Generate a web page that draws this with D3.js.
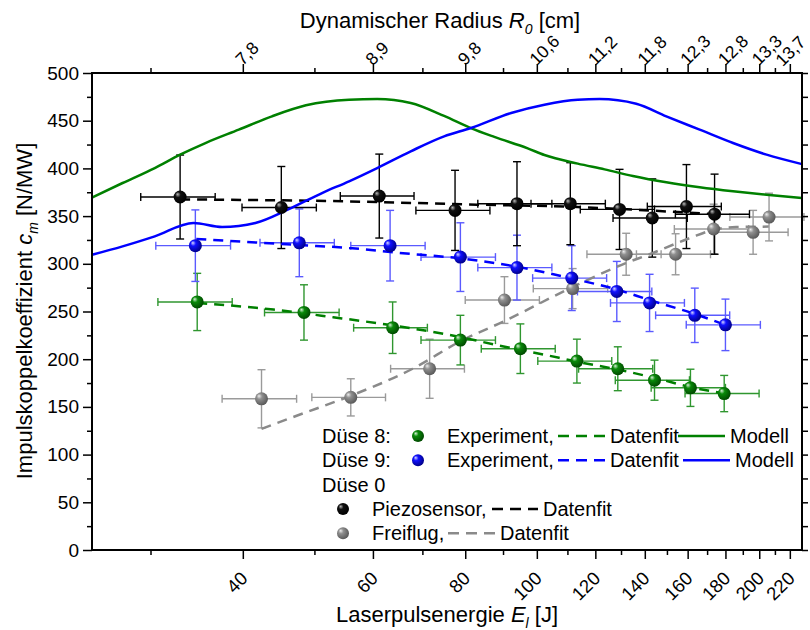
<!DOCTYPE html>
<html>
<head>
<meta charset="utf-8">
<script src="https://cdn.jsdelivr.net/npm/d3@7"></script>
<style>
  body { margin: 0; background: #fff; }
  text { font-family: "Liberation Sans", Arial, sans-serif; fill: #000; }
</style>
</head>
<body>
<div id="chart"></div>
<script>
// ---- data ----
// Düse 8 (green)
const d8E     = [34.7, 48.4, 63.8, 78.8, 95.0, 113.3, 128.7, 144.3, 161.4, 179.3];
const d8Cm    = [260, 249, 233, 220, 211, 198, 190, 178, 170, 164];
const d8CmErr = [30, 29, 27, 26, 26, 23, 23, 21, 19.5, 19];
const d8EErr  = [4.0, 5.6, 7.3, 9.1, 10.9, 13.0, 14.8, 16.6, 18.6, 20.6];
// Düse 9 (blue)
const d9E     = [34.5, 47.7, 63.3, 78.8, 94.0, 111.5, 128.3, 142.1, 163.6, 180.0];
const d9Cm    = [319, 322, 319, 307, 296, 285, 271, 259, 246, 236];
const d9CmErr = [37.5, 35.5, 37, 36, 34, 34, 31.5, 30, 28.5, 27];
const d9EErr  = [4.0, 5.5, 7.3, 9.1, 10.8, 12.8, 14.8, 16.3, 18.8, 20.7];
// Düse 0, Piezosensor (black)
const piezoE     = [32.9, 45.1, 61.2, 77.5, 94.0, 111.0, 129.4, 143.3, 159.4, 174.0];
const piezoCm    = [370, 359, 371, 356, 363, 363, 357, 348, 360, 352];
const piezoCmErr = [44, 43, 44, 42, 44, 43, 42, 41, 44, 42];
const piezoEErr  = [3.8, 5.2, 7.0, 8.9, 10.8, 12.8, 14.9, 16.5, 18.3, 20.0];
// Düse 0, Freiflug (gray)
const freiE     = [42.4, 56.0, 71.6, 90.4, 111.8, 132.1, 154.1, 173.5, 196.2, 206.2];
const freiCm    = [158.5, 160, 190, 262, 274, 310, 310, 336.5, 333, 349];
const freiCmErr = [30.5, 19.5, 31, 24.5, 21, 22, 21.5, 26, 23, 25];
const freiEErr  = [4.9, 6.4, 8.2, 10.4, 12.9, 15.2, 17.7, 20.0, 22.6, 23.7];

// data fits
const fit8E  = [34.7, 44, 53, 63, 79, 88, 102, 114, 129, 145, 163, 173.6, 179.5];
const fit8Cm = [259, 252, 244, 236, 223, 215, 205, 197, 189, 180, 170, 166, 164];
const fit9E  = [34.6, 47.6, 55.7, 64.7, 78.7, 93.9, 111.2, 128.3, 142.1, 163.6, 180.1];
const fit9Cm = [326, 319.7, 316.6, 311.6, 305.7, 297, 284.8, 273, 262, 247.4, 235.8];
const fitPiezoE  = [32.9, 54.8, 83.0, 113.6, 121.6, 174.0];
const fitPiezoCm = [367.5, 365.5, 362, 359.5, 358.5, 352];
const fitFreiE  = [42.4, 47.6, 55.7, 67.9, 78.9, 90.4, 112, 131.7, 142.1, 161.1, 173.6, 186.1, 206];
const fitFreiCm = [127, 141.5, 161, 190, 219, 240, 276, 300.5, 310, 327, 335.7, 338.6, 339];

// model curves
const model8E  = [25, 27.5, 30.4, 32.9, 35.6, 39.5, 43.8, 48.7, 55.7, 60.8, 67.5, 74.9, 81.4, 87.6, 97.2, 102.4, 113.6, 123.5, 134.9, 149.7, 166.1, 184.3, 204.6, 228.5];
const model8Cm = [369.5, 384.7, 400.4, 414.4, 426.6, 440.6, 454.6, 466.1, 472, 472.7, 468.6, 455, 442.3, 433, 421, 414, 405, 399, 392, 385.4, 380.2, 376, 372.4, 369];
const model9E  = [25, 27.5, 30.4, 34.3, 37.5, 41.6, 46.0, 51.2, 55.7, 60.8, 67.5, 74.9, 81.4, 92.3, 102.4, 113.6, 121.6, 136.3, 149.7, 166.1, 184.3, 204.6, 228.5];
const model9Cm = [309.5, 318.3, 328.8, 342.8, 338.6, 342.8, 356.7, 374.2, 386.5, 400.4, 417.9, 433.6, 442.3, 458.1, 466.8, 472, 472.7, 467.8, 454.6, 440.6, 426.6, 414.4, 404.5];

// axis ticks
const majorE = [40, 60, 80, 100, 120, 140, 160, 180, 200, 220];
const minorE = [30, 50, 70, 90, 110, 130, 150, 170, 190, 210];
const radiusLabels = ["7,8", "8,9", "9,8", "10,6", "11,2", "11,8", "12,3", "12,8", "13,3", "13,7"];
const cmMajor = [0, 50, 100, 150, 200, 250, 300, 350, 400, 450, 500];
const cmMinor = [25, 75, 125, 175, 225, 275, 325, 375, 425, 475];

const width = 810, height = 630;
const plot = {left: 92, right: 802, top: 73, bottom: 550};

const svg = d3.select("#chart")
  .append("svg")
    .attr("width", width)
    .attr("height", height);

const x = d3.scaleLog().domain([25, 228.5]).range([plot.left, plot.right]);
const y = d3.scaleLinear().domain([0, 500]).range([plot.bottom, plot.top]);

// shaded balls
const defs = svg.append("defs");
function ball(id, light, mid, dark) {
  const g = defs.append("radialGradient").attr("id", id)
    .attr("cx", "40%").attr("cy", "40%").attr("r", "60%")
    .attr("fx", "30%").attr("fy", "28%");
  g.append("stop").attr("offset", "0%").attr("stop-color", light);
  g.append("stop").attr("offset", "35%").attr("stop-color", mid);
  g.append("stop").attr("offset", "100%").attr("stop-color", dark);
}
ball("gGreen", "#d8f0d8", "#0a8a0a", "#004a00");
ball("gBlue", "#d8d8ff", "#1010ff", "#00008a");
ball("gBlack", "#bbbbbb", "#111111", "#000000");
ball("gGray", "#eeeeee", "#909090", "#5a5a5a");

const series = [
  {E: freiE, cm: freiCm, eErr: freiEErr, cErr: freiCmErr, bar: "#9a9a9a", fill: "url(#gGray)"},
  {E: d8E, cm: d8Cm, eErr: d8EErr, cErr: d8CmErr, bar: "#2f962f", fill: "url(#gGreen)"},
  {E: d9E, cm: d9Cm, eErr: d9EErr, cErr: d9CmErr, bar: "#5a5aff", fill: "url(#gBlue)"},
  {E: piezoE, cm: piezoCm, eErr: piezoEErr, cErr: piezoCmErr, bar: "#000000", fill: "url(#gBlack)"}
];

// error bars
series.forEach(function(s) {
  const g = svg.append("g").attr("stroke", s.bar).attr("stroke-width", 1.4).attr("fill", "none");
  s.E.forEach(function(e, i) {
    const cx = x(e), cy = y(s.cm[i]);
    const x0 = x(e - s.eErr[i]), x1 = x(e + s.eErr[i]);
    const y0 = y(s.cm[i] - s.cErr[i]), y1 = y(s.cm[i] + s.cErr[i]);
    g.append("line").attr("x1", x0).attr("x2", x1).attr("y1", cy).attr("y2", cy);
    g.append("line").attr("x1", x0).attr("x2", x0).attr("y1", cy - 4).attr("y2", cy + 4);
    g.append("line").attr("x1", x1).attr("x2", x1).attr("y1", cy - 4).attr("y2", cy + 4);
    g.append("line").attr("x1", cx).attr("x2", cx).attr("y1", y0).attr("y2", y1);
    g.append("line").attr("x1", cx - 4).attr("x2", cx + 4).attr("y1", y0).attr("y2", y0);
    g.append("line").attr("x1", cx - 4).attr("x2", cx + 4).attr("y1", y1).attr("y2", y1);
  });
});

// lines
const line = d3.line()
  .x(function(d) { return x(d[0]); })
  .y(function(d) { return y(d[1]); })
  .curve(d3.curveMonotoneX);

function drawLine(E, cm, color, dash) {
  svg.append("path")
    .datum(E.map(function(e, i) { return [e, cm[i]]; }))
    .attr("fill", "none")
    .attr("stroke", color)
    .attr("stroke-width", 2.5)
    .attr("stroke-dasharray", dash)
    .attr("d", line);
}
drawLine(fitFreiE, fitFreiCm, "#8a8a8a", "10,7");
drawLine(fit8E, fit8Cm, "#008000", "10,7");
drawLine(fit9E, fit9Cm, "#0000ff", "10,7");
drawLine(fitPiezoE, fitPiezoCm, "#000000", "10,7");
drawLine(model8E, model8Cm, "#008000", null);
drawLine(model9E, model9Cm, "#0000ff", null);

// balls
series.forEach(function(s) {
  svg.append("g").selectAll("circle")
    .data(s.E)
    .enter()
    .append("circle")
      .attr("cx", function(d) { return x(d); })
      .attr("cy", function(d, i) { return y(s.cm[i]); })
      .attr("r", 6.5)
      .attr("fill", s.fill);
});

// ---- axes ----
const bottomAxis = svg.append("g").attr("transform", `translate(0,${plot.bottom})`)
  .call(d3.axisBottom(x).tickValues(majorE).tickSize(9).tickFormat(d3.format("d")));
svg.append("g").attr("transform", `translate(0,${plot.bottom})`)
  .call(d3.axisBottom(x).tickValues(minorE).tickSize(5).tickFormat(""));
bottomAxis.selectAll("text")
  .attr("y", null).attr("dy", "0.35em")
  .attr("transform", "translate(1,25) rotate(-45)")
  .style("text-anchor", "end")
  .style("font-size", "18.5px");

const topAxis = svg.append("g").attr("transform", `translate(0,${plot.top})`)
  .call(d3.axisTop(x).tickValues(majorE).tickSize(9)
    .tickFormat(function(d, i) { return radiusLabels[i]; }));
svg.append("g").attr("transform", `translate(0,${plot.top})`)
  .call(d3.axisTop(x).tickValues(minorE).tickSize(5).tickFormat(""));
// last label sits right at the window edge, nudge it in a little
topAxis.selectAll("text")
  .attr("y", null).attr("dy", "0.35em")
  .attr("transform", function(d, i) {
    return i === radiusLabels.length - 1 ? "translate(-12,-10) rotate(-45)" : "translate(-5,-11) rotate(-45)";
  })
  .style("text-anchor", "start")
  .style("font-size", "17.5px");

const leftAxis = svg.append("g").attr("transform", `translate(${plot.left},0)`)
  .call(d3.axisLeft(y).tickValues(cmMajor).tickSize(9).tickPadding(4));
svg.append("g").attr("transform", `translate(${plot.left},0)`)
  .call(d3.axisLeft(y).tickValues(cmMinor).tickSize(5).tickFormat(""));
svg.append("g").attr("transform", `translate(${plot.right},0)`)
  .call(d3.axisRight(y).tickValues(cmMajor.concat(cmMinor)).tickSize(6).tickFormat(""));
leftAxis.selectAll("text").style("font-size", "19px");

svg.selectAll(".tick line").attr("stroke-width", 1.5);
svg.selectAll(".domain").remove();
svg.selectAll(".tick text").attr("fill", "#000").style("font-family", "'Liberation Sans', Arial, sans-serif");

// frame
svg.append("rect")
  .attr("x", plot.left).attr("y", plot.top)
  .attr("width", plot.right - plot.left).attr("height", plot.bottom - plot.top)
  .attr("fill", "none").attr("stroke", "#000").attr("stroke-width", 2);

// axis titles
const bt = svg.append("text").attr("x", 447).attr("y", 622)
  .style("text-anchor", "middle").style("font-size", "22px");
bt.append("tspan").text("Laserpulsenergie ");
bt.append("tspan").style("font-style", "italic").text("E");
bt.append("tspan").style("font-style", "italic").style("font-size", "14px").attr("dy", 6).text("l");
bt.append("tspan").attr("dy", -6).text(" [J]");

const tt = svg.append("text").attr("x", 440).attr("y", 28)
  .style("text-anchor", "middle").style("font-size", "22px");
tt.append("tspan").text("Dynamischer Radius ");
tt.append("tspan").style("font-style", "italic").text("R");
tt.append("tspan").style("font-style", "italic").style("font-size", "14px").attr("dy", 6).text("0");
tt.append("tspan").attr("dy", -6).text(" [cm]");

const yt = svg.append("text")
  .attr("transform", "translate(32,311) rotate(-90)")
  .style("text-anchor", "middle").style("font-size", "22px");
yt.append("tspan").text("Impulskoppelkoeffizient ");
yt.append("tspan").style("font-style", "italic").text("c");
yt.append("tspan").style("font-style", "italic").style("font-size", "14px").attr("dy", 6).text("m");
yt.append("tspan").attr("dy", -6).text(" [N/MW]");

// ---- legend ----
const leg = svg.append("g").style("font-size", "20px");
function legText(tx, ty, s) { leg.append("text").attr("x", tx).attr("y", ty).text(s); }
function legLine(x1, x2, ty, color, dash) {
  leg.append("line").attr("x1", x1).attr("x2", x2).attr("y1", ty - 7).attr("y2", ty - 7)
    .attr("stroke", color).attr("stroke-width", 2.5).attr("stroke-dasharray", dash);
}
function legBall(cx, ty, fill) {
  leg.append("circle").attr("cx", cx).attr("cy", ty - 7).attr("r", 6).attr("fill", fill);
}
const rows = [443, 467.3, 491.6, 516, 540.3];

legText(322, rows[0], "Düse 8:");
legBall(418, rows[0], "url(#gGreen)");
legText(447, rows[0], "Experiment,");
legLine(558, 605, rows[0], "#008000", "11,7");
legText(610, rows[0], "Datenfit");
legLine(678, 725, rows[0], "#008000", null);
legText(730, rows[0], "Modell");

legText(322, rows[1], "Düse 9:");
legBall(418, rows[1], "url(#gBlue)");
legText(447, rows[1], "Experiment,");
legLine(558, 605, rows[1], "#0000ff", "11,7");
legText(610, rows[1], "Datenfit");
legLine(683, 730, rows[1], "#0000ff", null);
legText(735, rows[1], "Modell");

legText(322, rows[2], "Düse 0");

legBall(343, rows[3], "url(#gBlack)");
legText(372, rows[3], "Piezosensor,");
legLine(492, 538, rows[3], "#000000", "11,7");
legText(543, rows[3], "Datenfit");

legBall(343, rows[4], "url(#gGray)");
legText(372, rows[4], "Freiflug,");
legLine(448, 495, rows[4], "#8a8a8a", "11,7");
legText(500, rows[4], "Datenfit");
</script>
</body>
</html>
